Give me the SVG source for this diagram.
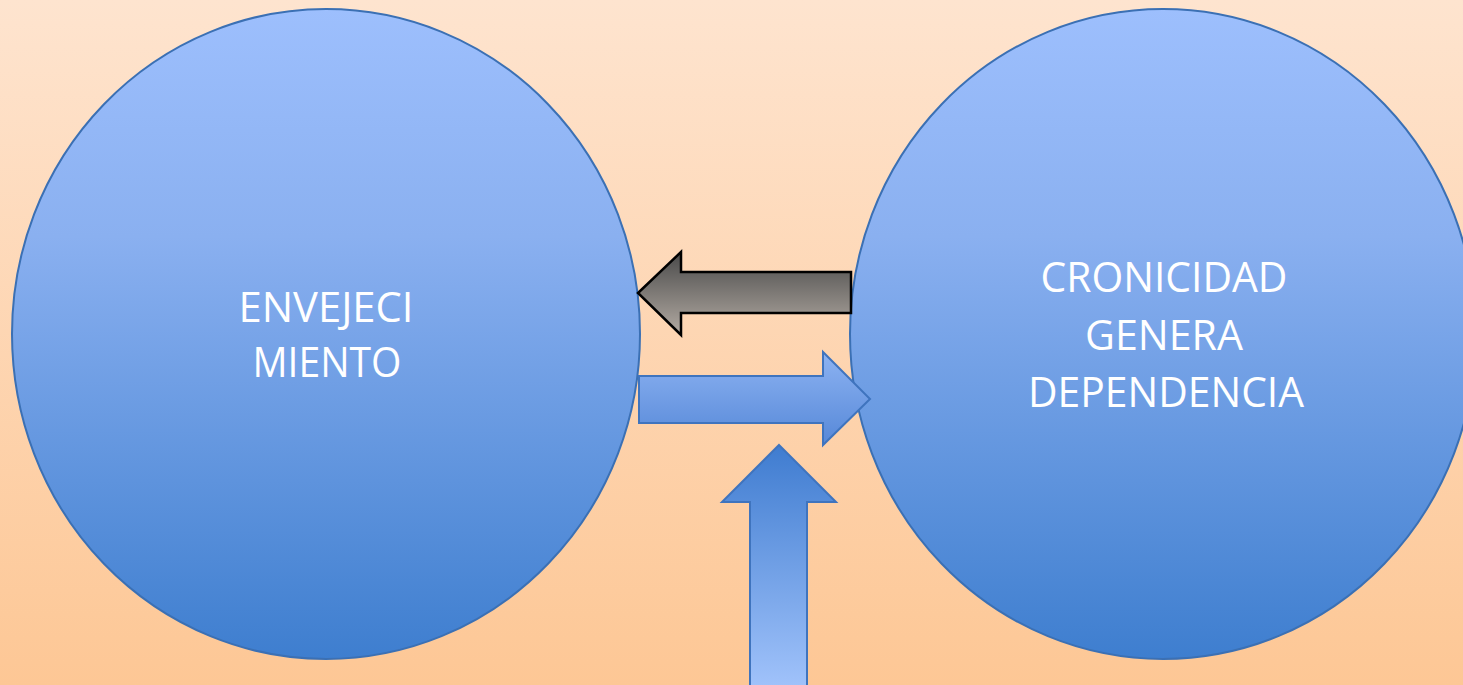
<svg xmlns="http://www.w3.org/2000/svg" width="1463" height="685" viewBox="0 0 1463 685">
  <defs>
    <linearGradient id="bg" x1="0" y1="0" x2="0" y2="1">
      <stop offset="0" stop-color="#FEE4CF"/>
      <stop offset="1" stop-color="#FDC795"/>
    </linearGradient>
    <linearGradient id="ball" x1="0" y1="0" x2="0" y2="1">
      <stop offset="0" stop-color="#9DBFFD"/>
      <stop offset="0.35" stop-color="#8AB0F0"/>
      <stop offset="1" stop-color="#3E7ECF"/>
    </linearGradient>
    <linearGradient id="grey" x1="0" y1="0" x2="0" y2="1">
      <stop offset="0" stop-color="#4A4A4A"/>
      <stop offset="1" stop-color="#B3ABA3"/>
    </linearGradient>
    <linearGradient id="blueRight" x1="0" y1="0" x2="0" y2="1">
      <stop offset="0" stop-color="#8DB3F2"/>
      <stop offset="1" stop-color="#5688D8"/>
    </linearGradient>
    <linearGradient id="blueUp" x1="0" y1="0" x2="0" y2="1">
      <stop offset="0" stop-color="#3F7CD0"/>
      <stop offset="1" stop-color="#A0C2FA"/>
    </linearGradient>
    <style>
      .ball { fill: url(#ball); stroke: #3B70B4; stroke-width: 2; }
      .label { font-family: "Open Sans", "Noto Sans", sans-serif; font-size: 42px; fill: #FFFFFF; text-anchor: middle; }
      .blue-arrow { stroke: #3F74BE; stroke-width: 2; stroke-linejoin: miter; }
      .grey-arrow { fill: url(#grey); stroke: #000000; stroke-width: 2.5; stroke-linejoin: miter; }
    </style>
  </defs>

  <rect x="0" y="0" width="1463" height="685" fill="url(#bg)"/>

  <g id="envejecimiento">
    <ellipse class="ball" cx="326" cy="334" rx="314" ry="325"/>
    <text class="label" x="326" y="322" textLength="175" lengthAdjust="spacingAndGlyphs">ENVEJECI</text>
    <text class="label" x="327" y="377" textLength="149" lengthAdjust="spacingAndGlyphs">MIENTO</text>
  </g>

  <g id="cronicidad">
    <ellipse class="ball" cx="1163" cy="334" rx="313" ry="325"/>
    <text class="label" x="1164" y="292" textLength="247" lengthAdjust="spacingAndGlyphs">CRONICIDAD</text>
    <text class="label" x="1164" y="350" textLength="158" lengthAdjust="spacingAndGlyphs">GENERA</text>
    <text class="label" x="1166" y="407" textLength="276" lengthAdjust="spacingAndGlyphs">DEPENDENCIA</text>
  </g>

  <g id="connectors">
    <!-- back arrow: dependencia -> envejecimiento -->
    <path class="grey-arrow" d="M638,293 L681,252 L681,272 L851,272 L851,313 L681,313 L681,335 Z"/>
    <!-- forward arrow: envejecimiento -> dependencia -->
    <path class="blue-arrow" fill="url(#blueRight)" d="M639,376 L823,376 L823,352 L870,399 L823,445 L823,423 L639,423 Z"/>
    <!-- rising arrow from below -->
    <path class="blue-arrow" fill="url(#blueUp)" d="M779,445 L836,502 L807,502 L807,686 L750,686 L750,502 L722,502 Z"/>
  </g>
</svg>
